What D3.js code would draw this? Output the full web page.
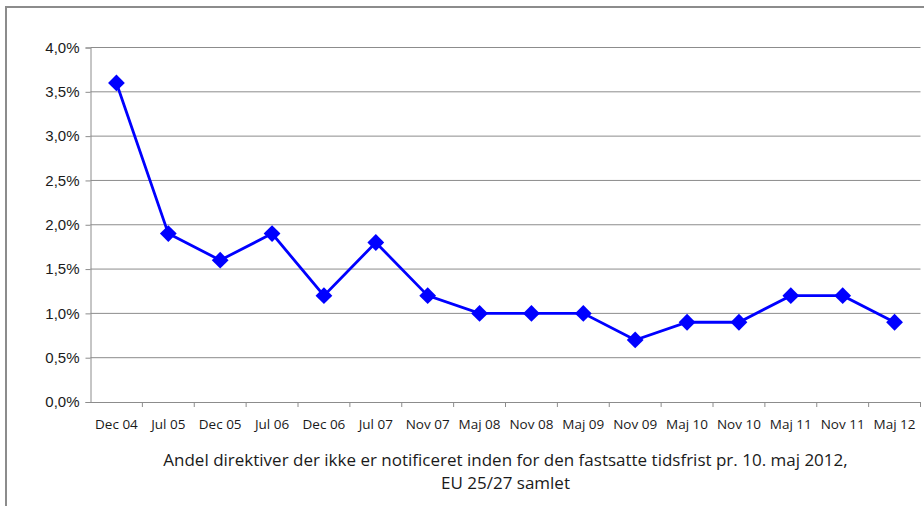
<!DOCTYPE html>
<html>
<head>
<meta charset="utf-8">
<script src="https://cdn.jsdelivr.net/npm/d3@7"></script>
<style>
  body { margin: 0; background: #fff; }
  svg { display: block; }
</style>
</head>
<body>
<svg id="chart"></svg>
<script>
const periods = ['Dec 04', 'Jul 05', 'Dec 05', 'Jul 06', 'Dec 06', 'Jul 07', 'Nov 07', 'Maj 08',
  'Nov 08', 'Maj 09', 'Nov 09', 'Maj 10', 'Nov 10', 'Maj 11', 'Nov 11', 'Maj 12']
const shares = [3.6, 1.9, 1.6, 1.9, 1.2, 1.8, 1.2, 1.0, 1.0, 1.0, 0.7, 0.9, 0.9, 1.2, 1.2, 0.9]
const yTicks = [0, 0.5, 1, 1.5, 2, 2.5, 3, 3.5, 4]
const titleLines = ['Andel direktiver der ikke er notificeret inden for den fastsatte tidsfrist pr. 10. maj 2012,', 'EU 25/27 samlet']

const width = 924
const height = 506
const margin = { top: 47.5, right: 3.5, bottom: 104, left: 90.5 }

const svg = d3.select('#chart')
  .attr('width', width)
  .attr('height', height)

// outer frame
svg.append('rect')
  .attr('x', 6).attr('y', 7)
  .attr('width', width + 10).attr('height', height + 10)
  .attr('fill', 'none')
  .attr('stroke', '#8c8c8c')
  .attr('stroke-width', 2)

const x = d3.scaleBand()
  .domain(periods)
  .range([margin.left, width - margin.right])

const y = d3.scaleLinear()
  .domain([0, 4])
  .range([height - margin.bottom, margin.top])

const fmt = d => d3.format('.1f')(d).replace('.', ',') + '%'

// gridlines
svg.append('g')
  .selectAll('line')
  .data(yTicks.slice(1))
  .enter()
  .append('line')
  .attr('x1', margin.left).attr('x2', width - margin.right)
  .attr('y1', d => y(d)).attr('y2', d => y(d))
  .attr('stroke', '#8c8c8c')
  .attr('stroke-width', 1)

const yAxis = svg.append('g')
  .attr('transform', `translate(${margin.left},0)`)
  .call(d3.axisLeft(y).tickValues(yTicks).tickFormat(fmt).tickSize(5).tickPadding(6))
yAxis.select('.domain').attr('stroke', '#8c8c8c')
yAxis.selectAll('.tick line').attr('stroke', '#8c8c8c')
yAxis.selectAll('text')
  .attr('fill', '#1a1a1a')
  .style('font-family', '"Liberation Sans", Arial, sans-serif')
  .style('font-size', '15px')

const xAxis = svg.append('g')
  .attr('transform', `translate(0,${height - margin.bottom})`)
  .call(d3.axisBottom(x).tickSize(0).tickPadding(17))
xAxis.select('.domain').attr('stroke', '#8c8c8c')
xAxis.selectAll('text')
  .attr('fill', '#1a1a1a')
  .style('font-family', '"Open Sans", sans-serif')
  .style('font-size', '13.5px')

// category separator ticks
svg.append('g')
  .selectAll('line')
  .data(periods)
  .enter()
  .append('line')
  .attr('x1', d => x(d) + x.bandwidth()).attr('x2', d => x(d) + x.bandwidth())
  .attr('y1', y(0)).attr('y2', y(0) + 5)
  .attr('stroke', '#8c8c8c')

const line = d3.line()
  .x((d, i) => x(periods[i]) + x.bandwidth() / 2)
  .y(d => y(d))

svg.append('path')
  .datum(shares)
  .attr('d', line)
  .attr('fill', 'none')
  .attr('stroke', '#0000ff')
  .attr('stroke-width', 2.8)

svg.append('g')
  .selectAll('path')
  .data(shares)
  .enter()
  .append('path')
  .attr('d', d3.symbol().type(d3.symbolDiamond2).size(180))
  .attr('transform', (d, i) => `translate(${x(periods[i]) + x.bandwidth() / 2},${y(d)})`)
  .attr('fill', '#0000ff')

svg.append('g')
  .selectAll('text')
  .data(titleLines)
  .enter()
  .append('text')
  .attr('x', (margin.left + width - margin.right) / 2)
  .attr('y', (d, i) => 466 + i * 23)
  .attr('text-anchor', 'middle')
  .attr('fill', '#1a1a1a')
  .style('font-family', '"Open Sans", sans-serif')
  .style('font-size', '17px')
  .text(d => d)
</script>
</body>
</html>
